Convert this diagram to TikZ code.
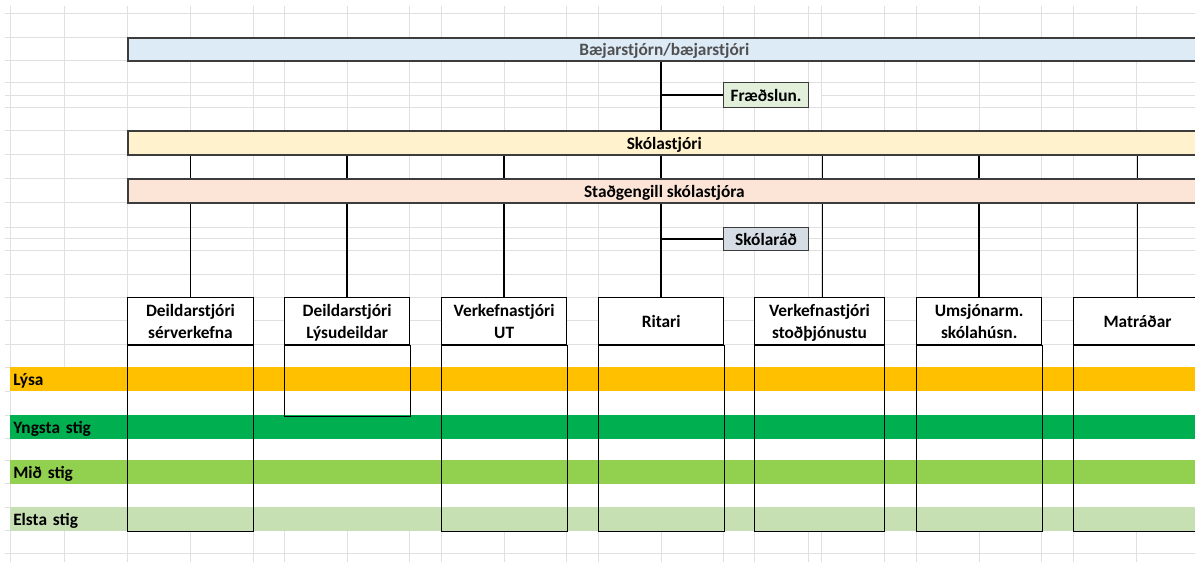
\documentclass[tikz,border=0pt]{standalone}
\usepackage{fontspec}
\setmainfont{Carlito}
\usetikzlibrary{positioning}

\definecolor{baejarfill}{RGB}{221,235,247}
\definecolor{skolafill}{RGB}{255,242,204}
\definecolor{stadfill}{RGB}{252,228,214}
\definecolor{fraedfill}{RGB}{226,239,218}
\definecolor{radfill}{RGB}{214,220,228}
\definecolor{lysafill}{RGB}{255,192,0}
\definecolor{yngstafill}{RGB}{0,176,80}
\definecolor{midfill}{RGB}{146,208,80}
\definecolor{elstafill}{RGB}{198,224,180}
\definecolor{bardraw}{RGB}{60,60,60}
\definecolor{bartext}{RGB}{80,80,80}
\definecolor{gridgray}{RGB}{224,224,224}

% same line height in every box header
\newcommand{\hstrut}{\rule[-2.25pt]{0pt}{14.25pt}}

\begin{document}
\begin{tikzpicture}[
	x=0.75pt, y=-0.75pt,
	txt/.style      = {font=\fontsize{13}{16.5}\selectfont\bfseries},
	bar/.style      = {txt, draw=bardraw, line width=1.2pt, anchor=north west, inner sep=0pt,
	                   minimum width=804.75pt, text height=10pt, text depth=0pt},
	side/.style     = {txt, draw=bardraw, line width=0.9pt, anchor=north west, inner sep=0pt,
	                   minimum width=63.75pt, text height=10pt, text depth=0pt},
	head/.style     = {txt, draw, line width=0.75pt, fill=white, align=center, anchor=north west,
	                   inner sep=0pt, minimum height=35.25pt},
	body/.style     = {fill=white, inner sep=0pt},
	band/.style     = {txt, anchor=north west, inner xsep=2.25pt, inner ysep=0pt, align=left,
	                   text width=884.25pt, minimum height=17.5pt, text height=10pt, text depth=0pt},
	conn/.style     = {line width=1.1pt},
	gridline/.style = {draw=gridgray, line width=0.6pt}]

	\useasboundingbox (0,0) rectangle (1195,562);

	% sheet grid
	\foreach \gx in {10,64,127,190,253,284,347,409,441,504,566,598,661,723,754,808,821,884,916,979,1041,1073,1136}
		\draw[gridline] (\gx,6) -- (\gx,562);
	\foreach \gy in {13,37,60,82,95,107,130,154,178,202,227,238,250,274,297,320,344,367,391,415,438,460,483,507,530,553}
		\draw[gridline] (5,\gy) -- (1195,\gy);
	\fill[white] (64.5,37.5) rectangle (126.5,59.5);
	\fill[white] (808.5,82.5) rectangle (820.5,106.5);
	\fill[white] (10.5,367) rectangle (1195,530);

	% top of the chart
	\node[bar, fill=baejarfill, text=bartext, minimum height=17.25pt] (baejar) at (127,37) {Bæjarstjórn/bæjarstjóri};
	\node[side, fill=fraedfill, minimum height=18.75pt] (fraed) at (723,82) {Fræðslun.};
	\node[bar, fill=skolafill, minimum height=18pt] (skola) at (127,130) {Skólastjóri};
	\node[bar, fill=stadfill, minimum height=18pt] (stad) at (127,178) {Staðgengill skólastjóra};
	\node[side, fill=radfill, minimum height=17.25pt] (skolarad) at (723,227) {Skólaráð};

	% staff boxes
	\foreach \n/\xl/\w/\bh/\lbl in {
		1/127/94.5/139.5/{\hstrut Deildarstjóri\\\hstrut sérverkefna},
		2/284/94/53.25/{\hstrut Deildarstjóri\\\hstrut Lýsudeildar},
		3/441/94/139.5/{\hstrut Verkefnastjóri\\\hstrut UT},
		4/598/94/139.5/{\hstrut Ritari},
		5/754/97.5/139.5/{\hstrut Verkefnastjóri\\\hstrut stoðþjónustu},
		6/916/94/139.5/{\hstrut Umsjónarm.\\\hstrut skólahúsn.},
		7/1073/96/139.5/{\hstrut Matráðar}}
	{
		\node[head, minimum width=\w pt] (h\n) at (\xl,297) {\lbl};
		\node[body, minimum width=\w pt, minimum height=\bh pt, below=0pt of h\n] (b\n) {};
	}

	% year bands
	\node[band, fill=lysafill] (lysa) at (10,367) {Lýsa};
	\node[band, fill=yngstafill] (yngsta) at (10,415) {Yngsta stig};
	\node[band, fill=midfill] (mid) at (10,460) {Mið stig};
	\node[band, fill=elstafill] (elsta) at (10,507) {Elsta stig};

	\foreach \n in {1,...,7}
		\draw[line width=0.75pt] (b\n.north west) rectangle (b\n.south east);

	% connectors
	\draw[conn] (baejar.south -| h4.north) -- (skola.north -| h4.north);
	\draw[conn] (fraed.west) -- (fraed.west -| h4.north);
	\draw[conn] (skolarad.west) -- (skolarad.west -| h4.north);
	\foreach \n/\dx in {1/0,2/0,3/0,4/0,5/2.25,6/0,7/0}
	{
		\draw[conn] ([xshift=\dx pt]h\n.north |- skola.south) -- ([xshift=\dx pt]h\n.north |- stad.north);
		\draw[conn] ([xshift=\dx pt]h\n.north |- stad.south) -- ([xshift=\dx pt]h\n.north);
	}

\end{tikzpicture}
\end{document}
